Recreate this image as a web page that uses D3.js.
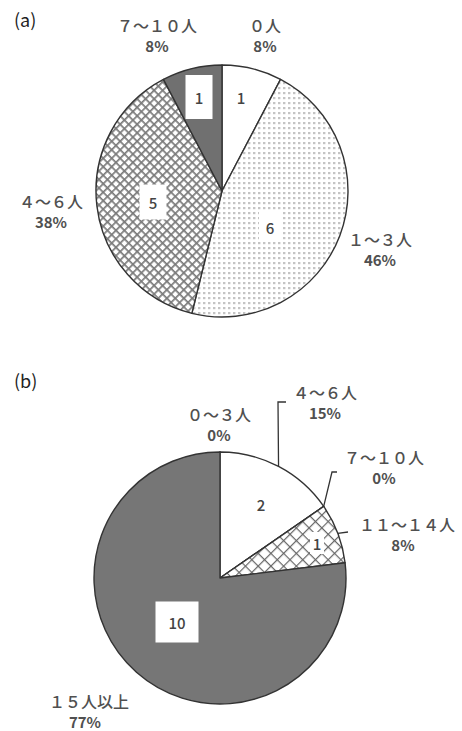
<!DOCTYPE html>
<html>
<head>
<meta charset="utf-8">
<script src="https://cdn.jsdelivr.net/npm/d3@7"></script>
<style>
  html, body { margin: 0; padding: 0; background: #fff; }
  svg { display: block; }
  text { font-family: "Noto Sans CJK JP", "Noto Sans", sans-serif; }
</style>
</head>
<body>
<svg id="chart" width="462" height="731"></svg>
<script>
// Panel (a): number of people per group
const catsA = ["０人", "１〜３人", "４〜６人", "７〜１０人"];
const valsA = [1, 6, 5, 1];
const pctA  = ["8%", "46%", "38%", "8%"];

// Panel (b)
const catsB = ["０〜３人", "４〜６人", "７〜１０人", "１１〜１４人", "１５人以上"];
const valsB = [0, 2, 0, 1, 10];
const pctB  = ["0%", "15%", "0%", "8%", "77%"];

const svg = d3.select("#chart");
const defs = svg.append("defs");

// fills: dotted grid, diamond hatch, open cross hatch
const dots = defs.append("pattern").attr("id", "dots")
  .attr("patternUnits", "userSpaceOnUse").attr("width", 5).attr("height", 5);
dots.append("rect").attr("width", 5).attr("height", 5).attr("fill", "#fff");
dots.append("rect").attr("x", 1).attr("y", 1).attr("width", 2.4).attr("height", 2.2).attr("fill", "#c4c4c4");

const diamond = defs.append("pattern").attr("id", "diamond")
  .attr("patternUnits", "userSpaceOnUse").attr("width", 6).attr("height", 6)
  .attr("patternTransform", "rotate(45)");
diamond.append("rect").attr("width", 6).attr("height", 6).attr("fill", "#fff");
diamond.append("rect").attr("width", 6).attr("height", 1.7).attr("fill", "#7a7a7a");
diamond.append("rect").attr("width", 1.7).attr("height", 6).attr("fill", "#7a7a7a");

const cross = defs.append("pattern").attr("id", "cross")
  .attr("patternUnits", "userSpaceOnUse").attr("width", 9).attr("height", 9)
  .attr("patternTransform", "rotate(45)");
cross.append("rect").attr("width", 9).attr("height", 9).attr("fill", "#fff");
cross.append("rect").attr("width", 9).attr("height", 1.2).attr("fill", "#666");
cross.append("rect").attr("width", 1.2).attr("height", 9).attr("fill", "#666");

const fillsA = ["#fff", "url(#dots)", "url(#diamond)", "#707070"];
const fillsB = ["#fff", "#fff", "#fff", "url(#cross)", "#767676"];

const R = 126;
const pie = d3.pie().sort(null).value(d => d.v);
const arc = d3.arc().innerRadius(0).outerRadius(R);

function drawPie(cfg) {
  const data = cfg.cats.map((c, i) => ({ c, v: cfg.vals[i], p: cfg.pcts[i], i }));
  const g = svg.append("g").attr("transform", `translate(${cfg.cx},${cfg.cy})`);
  const arcs = pie(data);

  g.selectAll("path.slice").data(arcs).join("path")
    .attr("class", "slice")
    .attr("d", arc)
    .attr("fill", d => cfg.fills[d.index])
    .attr("stroke", "#333").attr("stroke-width", 1.4)
    .attr("stroke-linejoin", "round");

  // value boxes and numbers inside slices
  arcs.forEach(d => {
    if (d.data.v === 0) return;
    const lp = cfg.valuePos[d.index];
    const txt = String(d.data.v);
    if (lp.box) {
      g.append("rect")
        .attr("x", lp.x - lp.box[0] / 2).attr("y", lp.y - lp.box[1] / 2)
        .attr("width", lp.box[0]).attr("height", lp.box[1])
        .attr("fill", "#fff");
    }
    g.append("text").attr("x", lp.x).attr("y", lp.y)
      .attr("text-anchor", "middle").attr("dominant-baseline", "central")
      .attr("font-size", 15).attr("font-weight", 500).attr("fill", "#444").text(txt);
  });

  // leader lines from the rim to the outside labels
  arcs.forEach(d => {
    const ld = cfg.leaders[d.index];
    if (!ld) return;
    const a = (d.startAngle + d.endAngle) / 2;
    const p0 = [R * Math.sin(a), -R * Math.cos(a)];
    const pts = [p0].concat(ld);
    g.append("path").attr("d", d3.line()(pts))
      .attr("fill", "none").attr("stroke", "#333").attr("stroke-width", 1.3);
  });

  // category and percentage labels
  arcs.forEach(d => {
    const lp = cfg.labelPos[d.index];
    const t = g.append("text").attr("text-anchor", "middle")
      .attr("font-size", 16).attr("font-weight", 500).attr("fill", "#505050");
    t.append("tspan").attr("x", lp.x).attr("y", lp.y).attr("dy", "0.35em").text(d.data.c);
    t.append("tspan").attr("x", lp.x + (lp.px || 0)).attr("y", lp.y + 21).attr("dy", "0.35em")
      .attr("font-size", 15).attr("font-weight", 700).text(d.data.p);
  });
}

svg.append("text").attr("x", 14).attr("y", 27).attr("font-size", 18)
  .attr("fill", "#222").attr("font-family", "Roboto, sans-serif").text("(a)");
svg.append("text").attr("x", 14).attr("y", 388).attr("font-size", 18)
  .attr("fill", "#222").attr("font-family", "Roboto, sans-serif").text("(b)");

drawPie({
  cx: 222, cy: 191, cats: catsA, vals: valsA, pcts: pctA, fills: fillsA,
  valuePos: [
    { x: 19, y: -94 },
    { x: 48, y: 36, box: [22, 30] },
    { x: -69, y: 11, box: [27, 35] },
    { x: -23, y: -94, box: [27, 44] }
  ],
  leaders: [null, null, null, null],
  labelPos: [
    { x: 43, y: -165 },
    { x: 158, y: 49 },
    { x: -171, y: 11 },
    { x: -65, y: -165 }
  ]
});

drawPie({
  cx: 220, cy: 578, cats: catsB, vals: valsB, pcts: pctB, fills: fillsB,
  valuePos: [
    null,
    { x: 41, y: -74 },
    null,
    { x: 97, y: -35, box: [14, 22] },
    { x: -43, y: 44, box: [43, 41] }
  ],
  leaders: [
    null,
    [[58, -176], [66, -176]],
    [[112, -106], [117, -106]],
    [[128, -46]],
    null
  ],
  labelPos: [
    { x: -1, y: -163 },
    { x: 105, y: -185 },
    { x: 164, y: -120 },
    { x: 187, y: -53, px: -4 },
    { x: -131, y: 124, px: -4 }
  ]
});
</script>
</body>
</html>
